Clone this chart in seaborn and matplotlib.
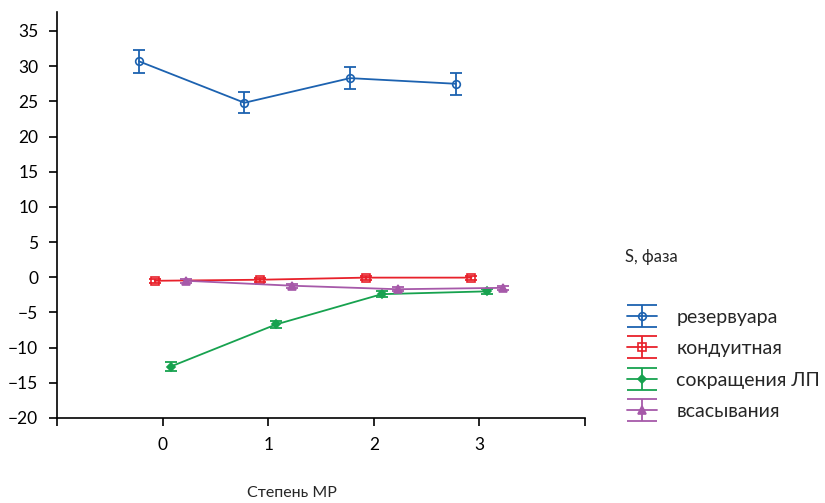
import numpy as np
import pandas as pd
import matplotlib
matplotlib.use("Agg")
import matplotlib.pyplot as plt
import matplotlib.lines as mlines
import seaborn as sns
from matplotlib.legend_handler import HandlerErrorbar, HandlerTuple
from matplotlib.container import ErrorbarContainer

# ---- data ----
degrees = [0, 1, 2, 3]
degree_labels = ["0", "1", "2", "3"]
phases = ["резервуара", "кондуитная", "сокращения ЛП", "всасывания"]
reservoir = [30.7, 24.8, 28.3, 27.5]
reservoir_err = [1.6, 1.5, 1.55, 1.55]
conduit = [-0.5, -0.35, -0.05, -0.05]
conduit_err = [0.3, 0.3, 0.3, 0.3]
contraction = [-12.7, -6.7, -2.4, -2.0]
contraction_err = [0.6, 0.5, 0.45, 0.4]
suction = [-0.5, -1.2, -1.7, -1.5]
suction_err = [0.3, 0.3, 0.3, 0.3]

values = [reservoir, conduit, contraction, suction]
errors = [reservoir_err, conduit_err, contraction_err, suction_err]

rows = []
for ph, vals, errs in zip(phases, values, errors):
    for d, v, e in zip(degrees, vals, errs):
        rows.append({"phase": ph, "degree": d, "S": v, "err": e})
df = pd.DataFrame(rows)

# ---- style ----
sns.set_theme(style="white")
plt.rcParams["font.family"] = ["Lato", "DejaVu Sans"]

colors = ["#1c62b0", "#e8212b", "#17a24f", "#a659a9"]
markers = ["o", "s", "D", "^"]
mfcs = ["none", "none", None, None]
msizes = [5.5, 5.5, 4, 5.5]
offsets = [-0.225, -0.075, 0.075, 0.225]

fig = plt.figure(figsize=(8.25, 5.03), dpi=100)
ax = fig.add_axes([57 / 825, (503 - 418) / 503, (585 - 57) / 825, (418 - 12) / 503])

handles = []
for i, ph in enumerate(phases):
    sub = df[df["phase"] == ph].copy()
    sub["x"] = sub["degree"] + offsets[i]
    mfc = colors[i] if mfcs[i] is None else "none"
    sns.lineplot(data=sub, x="x", y="S", ax=ax, color=colors[i], marker=markers[i],
                 markersize=msizes[i], markerfacecolor=mfc, markeredgecolor=colors[i],
                 markeredgewidth=1.2, linewidth=1.3, legend=False, errorbar=None)
    line = ax.lines[-1]
    eb = ax.errorbar(sub["x"], sub["S"], yerr=sub["err"], fmt="none", ecolor=colors[i],
                     elinewidth=1.3, capsize=4.3, capthick=1.3)
    handles.append((eb, line))

ax.set_xlim(-1, 4)
ax.set_ylim(-20, 37.7)
ax.set_xticks([-1] + degrees + [4])
ax.set_xticklabels([""] + degree_labels + [""])
ax.set_yticks(np.arange(-20, 36, 5))
ax.set_yticklabels(["\u221220", "\u221215", "\u221210", "\u22125", "0", "5", "10", "15", "20", "25", "30", "35"])
ax.tick_params(axis="both", direction="out", length=5.5, width=1.2, color="black",
               labelsize=12.5, labelcolor="black", bottom=True, left=True)
ax.tick_params(axis="x", pad=8.5)
ax.tick_params(axis="y", pad=8)
for s in ["top", "right"]:
    ax.spines[s].set_visible(False)
for s in ["left", "bottom"]:
    ax.spines[s].set_color("black")
    ax.spines[s].set_linewidth(1.2)
ax.set_xlabel("Степень МР", fontsize=11.5)
ax.xaxis.set_label_coords((292 - 57) / 528, (418 - 493) / 406)
ax.xaxis.label.set_va("center")
ax.set_ylabel("")

fig.text(625 / 825, 1 - 257 / 503, "S, фаза", fontsize=12, va="center", ha="left")

fs = 14
fpx = fs * 100 / 72
leg = fig.legend(handles, phases, loc="upper left",
                 bbox_to_anchor=(609 / 825, 1 - 291 / 503),
                 frameon=False, fontsize=fs, handlelength=30 / fpx, labelspacing=0.75,
                 handletextpad=20 / fpx, borderpad=0.4,
                 handler_map={tuple: HandlerTuple(ndivide=1),
                              ErrorbarContainer: HandlerErrorbar(yerr_size=11 / fpx)})
for obj in leg.findobj(mlines.Line2D):
    if obj.get_marker() == "_":
        obj.set_markersize(30 * 72 / 100)
        obj.set_markeredgewidth(1.3)

fig.savefig("out.png", dpi=100)
